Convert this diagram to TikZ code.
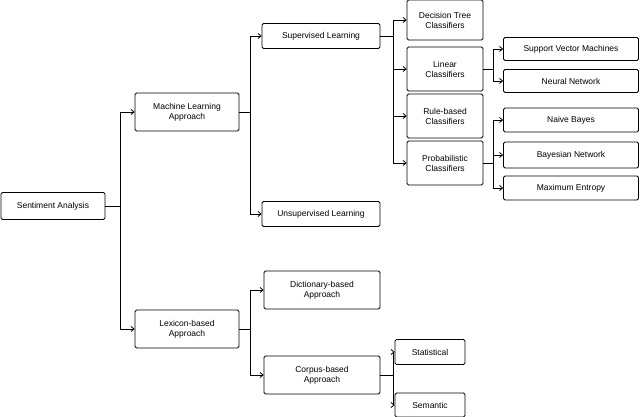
\documentclass[tikz,border=0pt]{standalone}
\usepackage{fontspec}
\setmainfont{Liberation Sans}
\usetikzlibrary{arrows.meta}
\begin{document}
\begin{tikzpicture}[x=1pt,y=-1pt,
  bx/.style={draw,rounded corners=1.5pt,line width=0.8pt,align=center,font=\fontsize{8.5}{10}\selectfont,inner sep=0pt},
  ar/.style={line width=0.8pt,-{Straight Barb[length=3pt,width=5pt]}}]
\useasboundingbox (0,0) rectangle (640,417);
\newcommand\bb[5]{\node[bx,minimum width=#3,minimum height=#4] (#1) at (#2) {#5};}
\bb{sa}{53,206}{104}{27}{Sentiment Analysis}
\bb{ml}{187,112}{104}{38}{Machine Learning\\Approach}
\bb{lx}{187,329}{104}{38}{Lexicon-based\\Approach}
\bb{sup}{321,36}{118}{25}{Supervised Learning}
\bb{uns}{321,214}{118}{25}{Unsupervised Learning}
\bb{dt}{445,20}{76}{40}{Decision Tree\\Classifiers}
\bb{lin}{445,69}{76}{44}{Linear\\Classifiers}
\bb{rb}{445,116}{76}{44}{Rule-based\\Classifiers}
\bb{pr}{445,163}{76}{44}{Probabilistic\\Classifiers}
\bb{svm}{571,49}{135}{23}{Support Vector Machines}
\bb{nn}{571,81}{135}{23}{Neural Network}
\bb{nb}{571,120}{135}{24}{Naive Bayes}
\bb{bn}{571,155}{135}{26}{Bayesian Network}
\bb{me}{571,188}{135}{24}{Maximum Entropy}
\bb{dic}{322,290}{116}{38}{Dictionary-based\\Approach}
\bb{cor}{322,375}{116}{38}{Corpus-based\\Approach}
\bb{st}{430,352}{70}{25}{Statistical}
\bb{se}{430,405}{70}{24}{Semantic}
\newcommand\tr[3]{\foreach \c in {#3} \draw[ar] (#1.east) -- ++(#2,0) |- (\c.west);}
\tr{sa}{15}{ml,lx}
\tr{ml}{11}{sup,uns}
\tr{sup}{13}{dt,lin,rb,pr}
\tr{lin}{10}{svm,nn}
\tr{pr}{10}{nb,bn,me}
\tr{lx}{11}{dic,cor}
\tr{cor}{13}{st,se}
\end{tikzpicture}
\end{document}
